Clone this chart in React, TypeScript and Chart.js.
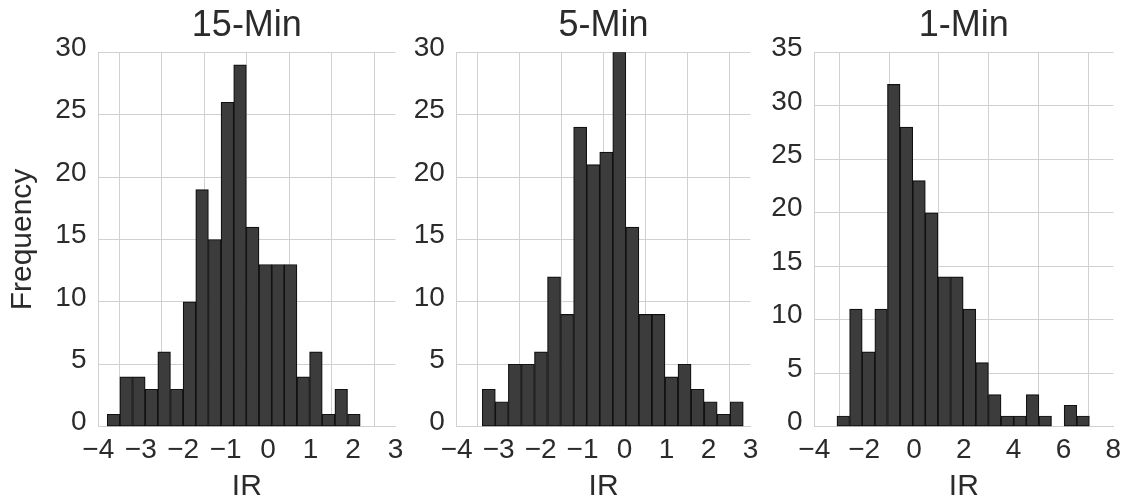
import React, { useEffect, useRef } from "react";
import { Chart, registerables } from "chart.js";

Chart.register(...registerables);

// ---- Data ----
const titles = ["15-Min", "5-Min", "1-Min"];

const binCenters15 = [-3.641, -3.343, -3.045, -2.747, -2.449, -2.151, -1.853, -1.555, -1.257, -0.959, -0.661, -0.363, -0.065, 0.233, 0.531, 0.829, 1.127, 1.425, 1.723, 2.021];
const counts15 = [1, 4, 4, 3, 6, 3, 10, 19, 15, 26, 29, 16, 13, 13, 13, 4, 6, 1, 3, 1];

const binCenters5 = [-3.235, -2.924, -2.613, -2.302, -1.991, -1.68, -1.369, -1.058, -0.747, -0.436, -0.125, 0.186, 0.497, 0.808, 1.119, 1.43, 1.741, 2.052, 2.363, 2.674];
const counts5 = [3, 2, 5, 5, 6, 12, 9, 24, 21, 22, 30, 16, 9, 9, 4, 5, 3, 2, 1, 2];

const binCenters1 = [-2.837, -2.33, -1.824, -1.317, -0.811, -0.304, 0.202, 0.709, 1.215, 1.722, 2.228, 2.735, 3.241, 3.748, 4.254, 4.761, 5.267, 5.774, 6.28, 6.787];
const counts1 = [1, 11, 7, 11, 32, 28, 23, 20, 14, 14, 11, 6, 3, 1, 1, 3, 1, 0, 2, 1];

const xRanges = [
  { min: -4, max: 3, step: 1 },
  { min: -4, max: 3, step: 1 },
  { min: -4, max: 8, step: 2 },
];
const yRanges = [
  { max: 30, step: 5 },
  { max: 30, step: 5 },
  { max: 35, step: 5 },
];
const xAxisLabel = "IR";
const yAxisLabel = "Frequency";

// ---- Layout ----
const PANELS = [
  { left: 0, width: 410, yWidth: 98.3, padRight: 11.7 },
  { left: 410, width: 355, yWidth: 46.7, padRight: 10.7 },
  { left: 765, width: 364, yWidth: 49.3, padRight: 15.7 },
];
const H = 503;
const X_AXIS_H = 76.3;
const TEXT = "#2b2b2b";
const GRID = "#d0d0d0";
const FONT = "'Liberation Sans', Arial, sans-serif";

function Panel({ idx, centers, counts }: { idx: number; centers: number[]; counts: number[] }) {
  const ref = useRef<HTMLCanvasElement | null>(null);
  useEffect(() => {
    if (!ref.current) return;
    const p = PANELS[idx];
    const xr = xRanges[idx];
    const yr = yRanges[idx];
    const chart = new Chart(ref.current, {
      type: "bar",
      data: {
        datasets: [
          {
            data: centers.map((c, i) => ({ x: c, y: counts[i] })),
            backgroundColor: "#3c3c3c",
            borderColor: "#111111",
            borderWidth: 1.2,
            borderSkipped: false,
            barPercentage: 1,
            categoryPercentage: 1,
          },
        ],
      },
      options: {
        responsive: false,
        animation: false,
        devicePixelRatio: 1,
        layout: { padding: { left: 0, right: p.padRight, top: 0, bottom: 0 } },
        plugins: {
          legend: { display: false },
          tooltip: { enabled: false },
          title: {
            display: true,
            text: titles[idx],
            fullSize: false,
            color: TEXT,
            font: { family: FONT, size: 36, weight: "normal", lineHeight: 1.2 },
            padding: { top: 4.4, bottom: 4.7 },
          },
        },
        scales: {
          x: {
            type: "linear",
            min: xr.min,
            max: xr.max,
            offset: false,
            grid: { color: GRID, lineWidth: 1, drawTicks: false },
            border: { display: true, color: GRID, width: 1 },
            ticks: {
              stepSize: xr.step,
              autoSkip: false,
              maxRotation: 0,
              padding: 6.8,
              color: TEXT,
              font: { family: FONT, size: 28, lineHeight: 1.2 },
              callback: (v: any) => (Number(v) < 0 ? "\u2212" + Math.abs(Number(v)) : String(v)),
            },
            title: {
              display: true,
              text: xAxisLabel,
              color: TEXT,
              font: { family: FONT, size: 30, lineHeight: 1.1 },
              padding: { top: 0, bottom: 0 },
            },
            afterFit: (scale: any) => {
              scale.height = X_AXIS_H;
            },
          },
          y: {
            type: "linear",
            min: 0,
            max: yr.max,
            grid: { color: GRID, lineWidth: 1, drawTicks: false },
            border: { display: true, color: GRID, width: 1 },
            ticks: {
              stepSize: yr.step,
              padding: 11.8,
              labelOffset: -4,
              color: TEXT,
              font: { family: FONT, size: 28, lineHeight: 1.2 },
            },
            title: {
              display: idx === 0,
              text: yAxisLabel,
              color: TEXT,
              font: { family: FONT, size: 30, lineHeight: 1.2 },
              padding: { top: 4.5, bottom: 0 },
            },
            afterFit: (scale: any) => {
              scale.width = p.yWidth;
            },
          },
        },
      },
    } as any);
    return () => chart.destroy();
  }, [idx, centers, counts]);
  const p = PANELS[idx];
  return (
    <canvas
      ref={ref}
      width={p.width}
      height={H}
      style={{ position: "absolute", left: p.left, top: 0, width: p.width, height: H }}
    />
  );
}

export default function App() {
  return (
    <div
      style={{
        position: "fixed",
        left: 0,
        top: 0,
        width: 1129,
        height: H,
        background: "#ffffff",
        overflow: "hidden",
      }}
    >
      <Panel idx={0} centers={binCenters15} counts={counts15} />
      <Panel idx={1} centers={binCenters5} counts={counts5} />
      <Panel idx={2} centers={binCenters1} counts={counts1} />
    </div>
  );
}
